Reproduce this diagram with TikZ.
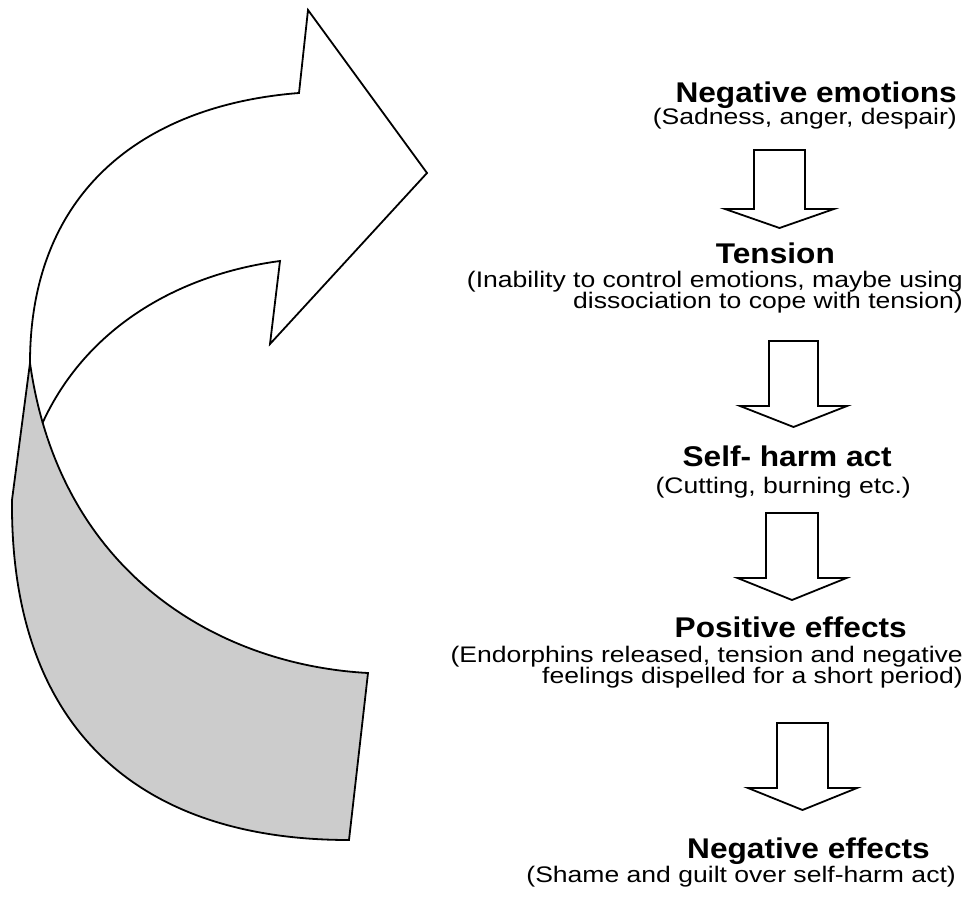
\documentclass[tikz,border=0pt]{standalone}
\usepackage{graphicx}
\usepackage{fontspec}
\setmainfont{Liberation Sans}
\newcommand{\regtxt}{\fontsize{22.5}{25}\selectfont}
\newcommand{\boldtxt}{\fontsize{28.5}{32}\selectfont\bfseries}
\newcommand{\rt}[1]{\scalebox{1.18}[1]{#1}}
\newcommand{\bt}[1]{\scalebox{1.11}[1]{#1}}
\newcommand{\blockdown}[7]{% name, cx, top, shaft half, shaft bottom, head half, tip
  \draw[blockarrow] ({#2-#4},#3) coordinate (#1-tl) -- ({#2+#4},#3) coordinate (#1-tr)
    -- ({#2+#4},#5) -- ({#2+#6},#5) -- (#2,#7) coordinate (#1-tip) -- ({#2-#6},#5) -- ({#2-#4},#5) -- cycle;}
\tikzset{
  blockarrow/.style={draw=black, fill=white, line width=1.8pt, line join=miter},
  ribbon/.style={draw=black, line width=1.8pt, line join=miter},
  titletxt/.style={anchor=base east, inner sep=0pt, font=\boldtxt},
  subtxt/.style={anchor=base east, inner sep=0pt, font=\regtxt}
}
\begin{document}
\begin{tikzpicture}[x=1pt,y=-1pt]
\useasboundingbox (0,0) rectangle (965,896);
% curved ribbon arrow
\coordinate (J) at (30,363);
\coordinate (L) at (12,500);
\coordinate (B) at (349,840);
\coordinate (C) at (368,673);
\coordinate (P1) at (299,93);
\coordinate (P2) at (308,10);
\coordinate (TIP) at (427,173);
\coordinate (P3) at (270,344);
\coordinate (I1) at (280,261);
\coordinate (I2) at (42.5,423);
\draw[ribbon, fill=gray!40] (J) -- (L) .. controls (10,720) and (130,840) .. (B) -- (C)
   .. controls (220,665) and (60,575) .. (J) -- cycle;
\draw[ribbon] (J) .. controls (30,190) and (145,105) .. (P1) -- (P2) -- (TIP) -- (P3) -- (I1)
   .. controls (175,275) and (85,330) .. (I2);
% texts
\node[titletxt] (t1) at (957,103) {\bt{Negative emotions}};
\node[subtxt] (t2) at (957,125) {\rt{(Sadness, anger, despair)}};
\node[titletxt] (t3) at (835,263) {\bt{Tension}};
\node[subtxt] (t4) at (963,287) {\rt{(Inability to control emotions, maybe using}};
\node[subtxt] (t5) at (963,308) {\rt{dissociation to cope with tension)}};
\node[titletxt] (t6) at (892,466) {\bt{Self- harm act}};
\node[subtxt] (t7) at (911,493) {\rt{(Cutting, burning etc.)}};
\node[titletxt] (t8) at (907,637) {\bt{Positive effects}};
\node[subtxt] (t9) at (963,662) {\rt{(Endorphins released, tension and negative}};
\node[subtxt] (t10) at (963,683) {\rt{feelings dispelled for a short period)}};
\node[titletxt] (t11) at (930,858) {\bt{Negative effects}};
\node[subtxt] (t12) at (956,882) {\rt{(Shame and guilt over self-harm act)}};
% block arrows
\blockdown{a1}{779.5}{150}{25.5}{209}{54.5}{228}
\blockdown{a2}{793.5}{341}{24.5}{406}{53.5}{427}
\blockdown{a3}{792}{513}{26}{578}{54.5}{600}
\blockdown{a4}{802.5}{723}{25.5}{788}{54.5}{810}
\end{tikzpicture}
\end{document}
